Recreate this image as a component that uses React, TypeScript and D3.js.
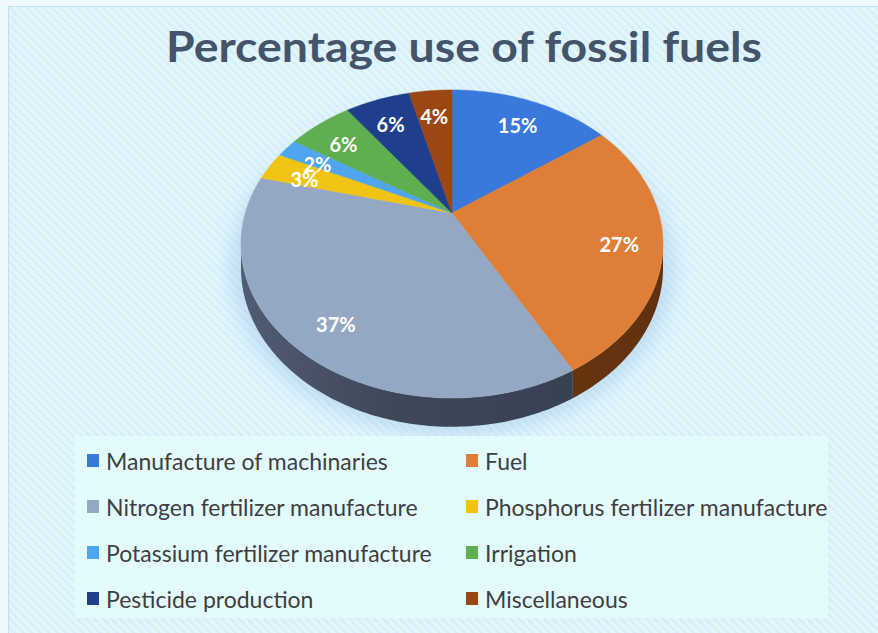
import React from 'react';
import * as d3 from 'd3';

const categories = [
  'Manufacture of machinaries',
  'Fuel',
  'Nitrogen fertilizer manufacture',
  'Phosphorus fertilizer manufacture',
  'Potassium fertilizer manufacture',
  'Irrigation',
  'Pesticide production',
  'Miscellaneous',
];
const values = [15, 27, 37, 3, 2, 6, 6, 4];
const colors = ['#3a79dc', '#df7f37', '#95a8c3', '#f1c414', '#4fa5f0', '#5fae4f', '#1f3f8c', '#9a4714'];
const sideColors = ['#1f4a8e', '#703810', '#3e4859', '#8a6a08', '#2a5f90', '#356a2a', '#101f48', '#5a2a0a'];

const W = 878;
const H = 633;

// perspective disc
const cx = 452;
const cy = 213;
const A = 206.7;
const B = 147.8;
const k = 0.201;
const h0 = 23;

const proj = (theta: number, r = 1): [number, number] => {
  const u = r * Math.sin(theta);
  const v = -r * Math.cos(theta);
  const d = 1 - k * v;
  return [cx + (A * u) / d, cy + (B * v) / d];
};
const sideH = (theta: number) => h0 / (1 + k * Math.cos(theta));

const arcPts = (a0: number, a1: number, down = false) => {
  const n = Math.max(4, Math.ceil(((a1 - a0) * 180) / Math.PI));
  return d3.range(n + 1).map((i) => {
    const t = a0 + ((a1 - a0) * i) / n;
    const p = proj(t);
    return [p[0], down ? p[1] + sideH(t) : p[1]] as [number, number];
  });
};

const line = d3.line();

export default function App() {
  const pie = d3.pie<number>().sort(null).value((d) => d)(values);
  const visA = Math.acos(-k);
  const visB = 2 * Math.PI - visA;

  const legendRows = d3.range(Math.ceil(categories.length / 2));
  const rowY = d3.scalePoint<number>().domain(legendRows).range([460, 598]);
  const colX = [87, 466];

  return (
    <svg width={W} height={H} style={{ position: 'absolute', left: 0, top: 0 }}>
      <defs>
        <pattern id="stripes" width="6" height="6" patternUnits="userSpaceOnUse" patternTransform="rotate(-45)">
          <rect width="6" height="6" fill="#e3f6fc" />
          <rect width="2.5" height="6" fill="#d6eef8" />
        </pattern>
        <filter id="glow" x="-30%" y="-30%" width="160%" height="160%">
          <feGaussianBlur stdDeviation="8" />
        </filter>
        {colors.map((c, i) => (
          <linearGradient key={i} id={`side${i}`} gradientUnits="userSpaceOnUse" x1={cx - A * 1.02} x2={cx + A * 1.02} y1="0" y2="0">
            <stop offset="0" stopColor={d3.color(sideColors[i])!.brighter(0.7).formatHex()} />
            <stop offset="0.35" stopColor={sideColors[i]} />
            <stop offset="1" stopColor={d3.color(sideColors[i])!.darker(0.4).formatHex()} />
          </linearGradient>
        ))}
      </defs>
      <rect x={0} y={0} width={W} height={H} fill="#eef9fd" />
      <rect x={8.5} y={6.5} width={W - 8} height={H - 6} fill="url(#stripes)" stroke="#c3e0ef" strokeWidth={1} />

      <text
        x={464}
        y={62}
        textAnchor="middle"
        fontFamily="Lato, 'Open Sans', sans-serif"
        fontWeight={700}
        fontSize={42}
        fill="#44546a"
        textLength={596}
        lengthAdjust="spacingAndGlyphs"
      >
        Percentage use of fossil fuels
      </text>

      {/* soft glow under the disc */}
      <ellipse cx={cx} cy={268} rx={222} ry={168} fill="#a9cdee" opacity={0.55} filter="url(#glow)" />

      {/* sides */}
      {pie.map((s, i) => {
        const a0 = Math.max(s.startAngle, visA);
        const a1 = Math.min(s.endAngle, visB);
        if (a1 <= a0) return null;
        const top = arcPts(a0, a1);
        const bottom = arcPts(a0, a1, true).reverse();
        return <path key={`s${i}`} d={line([...top, ...bottom])! + 'Z'} fill={`url(#side${i})`} />;
      })}

      {/* top faces */}
      {pie.map((s, i) => (
        <path
          key={`t${i}`}
          d={line([[cx, cy], ...arcPts(s.startAngle, s.endAngle)])! + 'Z'}
          fill={colors[i]}
          stroke={colors[i]}
          strokeWidth={0.5}
        />
      ))}

      {/* labels */}
      {pie.map((s, i) => {
        const [lx, ly] = proj((s.startAngle + s.endAngle) / 2, 0.8);
        return (
          <text
            key={`l${i}`}
            x={lx}
            y={ly + 4}
            textAnchor="middle"
            dominantBaseline="central"
            fontFamily="Lato, 'Open Sans', sans-serif"
            fontWeight={700}
            fontSize={20}
            fill="#ffffff"
          >
            {`${values[i]}%`}
          </text>
        );
      })}

      {/* legend */}
      <rect x={75} y={436} width={753} height={182} fill="#e4fbfe" />
      {categories.map((c, i) => {
        const x = colX[i % 2];
        const y = rowY(Math.floor(i / 2))!;
        return (
          <g key={`g${i}`}>
            <rect x={x} y={y - 6} width={12} height={13} fill={colors[i]} />
            <text
              x={x + 19}
              y={y + 1}
              dominantBaseline="central"
              fontFamily="Lato, 'Open Sans', sans-serif"
              fontSize={23}
              fill="#3f3f3f"
            >
              {c}
            </text>
          </g>
        );
      })}
    </svg>
  );
}
